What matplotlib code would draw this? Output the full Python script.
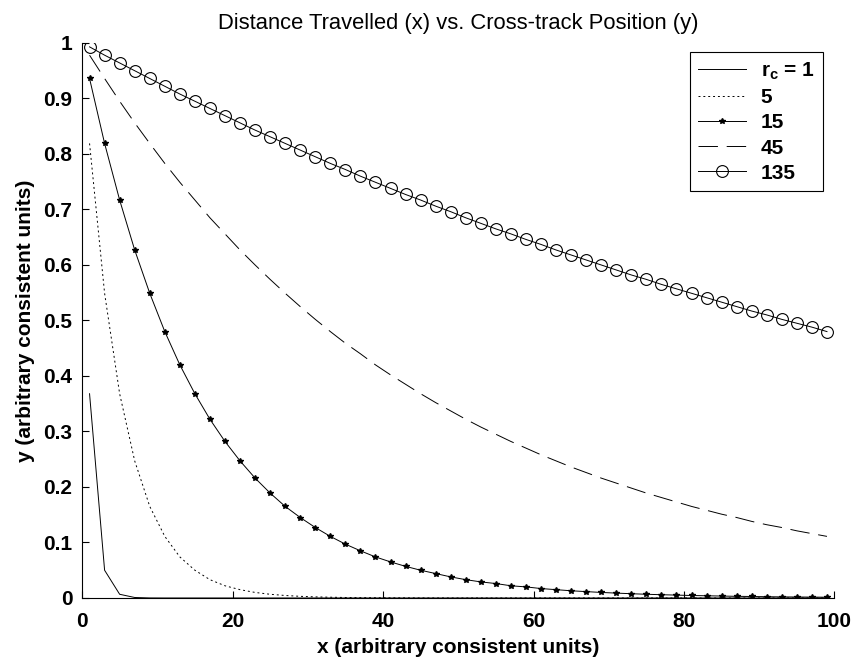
import matplotlib
matplotlib.use("Agg")
from matplotlib import pyplot as plt

plt.rcParams['font.family'] = ['Liberation Sans', 'DejaVu Sans']

# x positions of the samples (every 2 units)
x = [1, 3, 5, 7, 9, 11, 13, 15, 17, 19, 21, 23, 25, 27, 29, 31, 33, 35, 37, 39,
     41, 43, 45, 47, 49, 51, 53, 55, 57, 59, 61, 63, 65, 67, 69, 71, 73, 75, 77, 79,
     81, 83, 85, 87, 89, 91, 93, 95, 97, 99]

y_rc1 = [0.368, 0.050, 0.0067, 0.0009, 0.0001] + [0.0] * 45

y_rc5 = [0.819, 0.549, 0.368, 0.247, 0.165, 0.111, 0.074, 0.050, 0.033, 0.022,
         0.015, 0.010, 0.0067, 0.0045, 0.0030, 0.0020, 0.0014, 0.0009, 0.0006, 0.0004,
         0.0003, 0.0002, 0.0001] + [0.0] * 27

y_rc15 = [0.936, 0.819, 0.717, 0.627, 0.549, 0.480, 0.420, 0.368, 0.322, 0.282,
          0.247, 0.216, 0.189, 0.165, 0.145, 0.127, 0.111, 0.097, 0.085, 0.074,
          0.065, 0.057, 0.050, 0.044, 0.038, 0.033, 0.029, 0.026, 0.022, 0.020,
          0.017, 0.015, 0.013, 0.0115, 0.010, 0.0088, 0.0077, 0.0067, 0.0059, 0.0052,
          0.0045, 0.0040, 0.0035, 0.0030, 0.0027, 0.0023, 0.0020, 0.0018, 0.0016, 0.0014]

y_rc45 = [0.978, 0.936, 0.895, 0.856, 0.819, 0.783, 0.749, 0.717, 0.685, 0.656,
          0.627, 0.600, 0.574, 0.549, 0.525, 0.502, 0.480, 0.459, 0.440, 0.420,
          0.402, 0.385, 0.368, 0.352, 0.337, 0.322, 0.308, 0.295, 0.282, 0.270,
          0.258, 0.247, 0.236, 0.226, 0.216, 0.207, 0.198, 0.189, 0.181, 0.173,
          0.165, 0.158, 0.151, 0.145, 0.138, 0.132, 0.127, 0.121, 0.116, 0.111]

y_rc135 = [0.993, 0.978, 0.964, 0.950, 0.936, 0.922, 0.908, 0.895, 0.882, 0.869,
           0.856, 0.843, 0.831, 0.819, 0.807, 0.795, 0.783, 0.772, 0.760, 0.749,
           0.738, 0.727, 0.717, 0.706, 0.696, 0.685, 0.675, 0.665, 0.656, 0.646,
           0.637, 0.627, 0.618, 0.609, 0.600, 0.591, 0.582, 0.574, 0.565, 0.557,
           0.549, 0.541, 0.533, 0.525, 0.517, 0.510, 0.502, 0.495, 0.488, 0.480]

labels = ['r$_\\mathregular{c}$ = 1', '5', '15', '45', '135']

fig = plt.figure(figsize=(8.58, 6.58), dpi=100)
ax = fig.add_axes([0.0956, 0.0912, 0.877, 0.8435])

lw = 0.7
ax.plot(x, y_rc1, color='black', lw=lw, label=labels[0])
ax.plot(x, y_rc5, color='black', lw=lw, linestyle=(0, (2, 3)), label=labels[1])
ax.plot(x, y_rc15, color='black', lw=lw, marker='*', markersize=4, label=labels[2])
ax.plot(x, y_rc45, color='black', lw=lw, linestyle=(0, (20, 9)), label=labels[3])
ax.plot(x, y_rc135, color='black', lw=lw, marker='o', markersize=8.5,
        markerfacecolor='none', markeredgewidth=0.8, label=labels[4])

ax.set_xlim(0, 100)
ax.set_ylim(0, 1)
ax.set_xticks([0, 20, 40, 60, 80, 100])
ax.set_yticks([0, 0.1, 0.2, 0.3, 0.4, 0.5, 0.6, 0.7, 0.8, 0.9, 1])
ax.set_yticklabels(['0', '0.1', '0.2', '0.3', '0.4', '0.5', '0.6', '0.7', '0.8', '0.9', '1'])
ax.tick_params(axis='both', direction='in', length=5, width=0.8, labelsize=15)
ax.tick_params(axis='x', pad=10)
ax.tick_params(axis='y', pad=7)
for lab in ax.get_xticklabels() + ax.get_yticklabels():
    lab.set_fontweight('bold')

ax.spines['top'].set_visible(False)
ax.spines['right'].set_visible(False)
ax.spines['left'].set_linewidth(0.8)
ax.spines['bottom'].set_linewidth(0.8)

ax.set_title('Distance Travelled (x) vs. Cross-track Position (y)', fontsize=15.8, pad=10)
ax.set_xlabel('x (arbitrary consistent units)', fontsize=15, fontweight='bold', labelpad=5)
ax.set_ylabel('y (arbitrary consistent units)', fontsize=15, fontweight='bold', labelpad=6)

leg = ax.legend(loc='upper right', bbox_to_anchor=(0.985, 0.984), borderaxespad=0,
                fancybox=False, edgecolor='black', framealpha=1,
                prop={'size': 15, 'weight': 'bold'}, handlelength=2.3,
                handletextpad=0.7, labelspacing=0.3)
leg.get_frame().set_linewidth(0.8)

fig.savefig('out.png', dpi=100)
